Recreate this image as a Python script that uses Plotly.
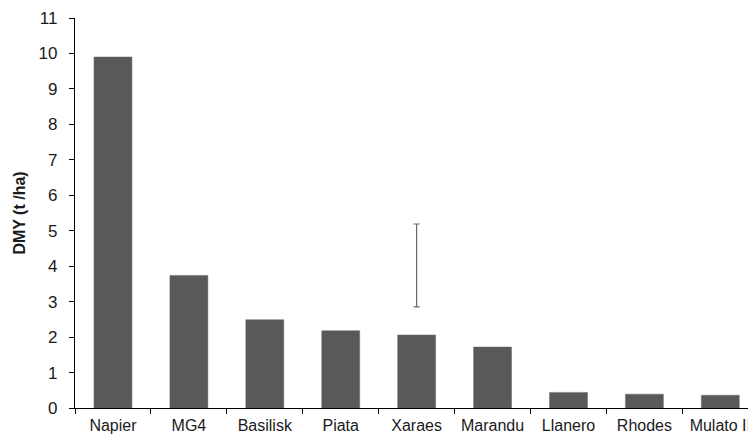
import plotly.graph_objects as go

categories = ["Napier", "MG4", "Basilisk", "Piata", "Xaraes", "Marandu", "Llanero", "Rhodes", "Mulato II"]
dmy = [9.9, 3.74, 2.49, 2.18, 2.06, 1.72, 0.44, 0.39, 0.36]

# floating error bar shown above Xaraes
err_category = ["Xaraes"]
err_low = [2.85]
err_high = [5.19]
err_mid = [(h + l) / 2 for h, l in zip(err_high, err_low)]
err_half = [(h - l) / 2 for h, l in zip(err_high, err_low)]

y_ticks = list(range(0, 12))

fig = go.Figure()
fig.add_trace(go.Bar(
    x=categories, y=dmy,
    marker=dict(color="#595959", line=dict(color="#6a6a6a", width=0.5)),
    showlegend=False,
))
fig.add_trace(go.Scatter(
    x=err_category, y=err_mid, mode="markers",
    marker=dict(size=0.1, color="rgba(0,0,0,0)"),
    error_y=dict(type="data", array=err_half, visible=True, color="#666666", thickness=1.2, width=3),
    showlegend=False,
))

# page body has an 8px default margin, so the figure is sized to fit the window
fig.update_layout(
    width=748, height=433,
    margin=dict(l=67, r=0, t=10, b=33),
    paper_bgcolor="white", plot_bgcolor="white",
    bargap=0.5,
    font=dict(family="Liberation Sans, Arial, sans-serif", size=17, color="#1a1a1a"),
    xaxis=dict(
        type="category", range=[-0.5, 8.47],
        showline=True, linecolor="black", linewidth=1.2,
        ticks="outside", ticklen=5, tickcolor="black", tickson="boundaries",
        showgrid=False, zeroline=False,
        tickfont=dict(size=16),
        tickangle=0,
        ticklabeloverflow="allow",
        ticklabelstandoff=3,
        automargin=False,
    ),
    yaxis=dict(
        range=[0, 11], tickvals=y_ticks,
        showline=True, linecolor="black", linewidth=1.2,
        ticks="outside", ticklen=5, tickcolor="black",
        showgrid=False, zeroline=False,
        tickfont=dict(size=17),
        ticklabelstandoff=8,
        title=dict(text="<b>DMY (t /ha)</b>", font=dict(size=16), standoff=8),
        automargin=False,
    ),
)

fig.write_html("out.html")
